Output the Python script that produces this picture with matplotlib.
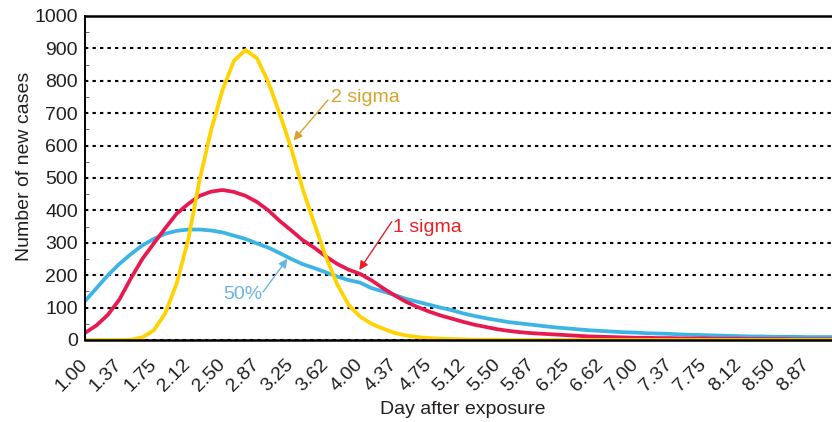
import matplotlib
matplotlib.use('Agg')
import matplotlib.pyplot as plt
from matplotlib.ticker import MultipleLocator
import numpy as np

# days after exposure, sampled every 1/8 day
days = np.arange(1.0, 9.2501, 0.125)

two_sigma = [0, 0, 0, 0, 1, 8, 30, 82, 175, 309, 494, 648, 772, 862, 895, 870,
             795, 697, 590, 465, 360, 258, 172, 108, 72, 50, 35, 22, 14, 9, 6, 4,
             3, 2, 1, 1, 1] + [0] * 30

one_sigma = [22, 45, 78, 125, 190, 250, 298, 345, 390, 420, 445, 458, 463, 457,
             445, 426, 400, 367, 338, 308, 285, 258, 235, 217, 204, 184, 160, 138,
             118, 102, 88, 76, 66, 56, 47, 40, 33, 28, 24, 21, 19, 17, 15, 13, 11,
             10, 9, 8, 7, 7, 6, 6, 5, 5, 5, 4, 4, 4, 3, 3, 3, 3, 2, 2, 2, 2, 2]

fifty_pct = [120, 160, 200, 235, 265, 292, 312, 328, 337, 341, 341, 338, 332, 322,
             312, 298, 285, 268, 250, 234, 222, 209, 196, 185, 177, 160, 150, 139,
             127, 118, 109, 100, 92, 82, 74, 67, 61, 55, 51, 47, 43, 39, 36, 33,
             30, 28, 26, 24, 23, 21, 20, 19, 17, 16, 15, 14, 13, 12, 11, 11, 10,
             10, 10, 9, 9, 9, 9]

tick_days = np.arange(1.0, 8.9, 0.375)
tick_labels = ['1.00', '1.37', '1.75', '2.12', '2.50', '2.87', '3.25', '3.62',
               '4.00', '4.37', '4.75', '5.12', '5.50', '5.87', '6.25', '6.62',
               '7.00', '7.37', '7.75', '8.12', '8.50', '8.87']

yellow = '#ffd200'
red = '#e8194f'
blue = '#3cb4e6'
txt = '#231f20'

plt.rcParams['font.family'] = ['Liberation Sans', 'DejaVu Sans']
plt.rcParams['font.size'] = 14

fig = plt.figure(figsize=(8.32, 4.22), dpi=100)
ax = fig.add_axes([85 / 832, 1 - 340 / 422, 747 / 832, 324 / 422])

ax.yaxis.grid(True, color='black', linestyle=(0, (1.6, 2.0)), linewidth=1.5)
ax.set_axisbelow(True)

ax.plot(days, fifty_pct, color=blue, lw=2.7, solid_capstyle='butt')
ax.plot(days, one_sigma, color=red, lw=2.7, solid_capstyle='butt')
ax.plot(days, two_sigma, color=yellow, lw=2.7, solid_capstyle='butt')

ax.set_xlim(1.0, 9.146)
ax.set_ylim(0, 1000)
ax.set_yticks(np.arange(0, 1001, 100))
ax.yaxis.set_minor_locator(MultipleLocator(50))
ax.set_xticks(tick_days)
ax.set_xticklabels(tick_labels, rotation=45, ha='right', va='center',
                   rotation_mode='anchor')
ax.tick_params(axis='x', length=0, pad=16, colors=txt)
ax.tick_params(axis='y', which='major', length=0, pad=5, colors=txt)
ax.tick_params(axis='y', which='minor', direction='in', length=3, width=0.6,
               color='#555555')

for side in ['top', 'bottom']:
    ax.spines[side].set_linewidth(1.8)
ax.spines['left'].set_linewidth(1.4)
ax.spines['right'].set_visible(False)

ax.set_ylabel('Number of new cases', color=txt)
ax.yaxis.set_label_coords(-0.081, 0.537)
ax.yaxis.label.set_va('center')
ax.set_xlabel('Day after exposure', color=txt)
ax.xaxis.set_label_coords(0.506, -0.216)
ax.xaxis.label.set_va('center')

# curve labels with arrows
ax.text(3.683, 747, '2 sigma', color='#d6a42a', ha='left', va='center')
ax.annotate('', xy=(3.274, 616), xytext=(3.65, 741),
            arrowprops=dict(arrowstyle='-|>', color='#d6a42a', lw=1,
                            mutation_scale=13, shrinkA=0, shrinkB=0))
ax.text(4.359, 346, '1 sigma', color='#e8202a', ha='left', va='center')
ax.annotate('', xy=(3.991, 216), xytext=(4.345, 365),
            arrowprops=dict(arrowstyle='-|>', color='#e8202a', lw=1,
                            mutation_scale=13, shrinkA=0, shrinkB=0))
ax.text(2.930, 139, '50%', color='#6ab4e4', ha='right', va='center')
ax.annotate('', xy=(3.208, 251), xytext=(2.941, 148),
            arrowprops=dict(arrowstyle='-|>', color='#6ab4e4', lw=1,
                            mutation_scale=13, shrinkA=0, shrinkB=0))

fig.savefig('out.png', dpi=100, facecolor='white')
